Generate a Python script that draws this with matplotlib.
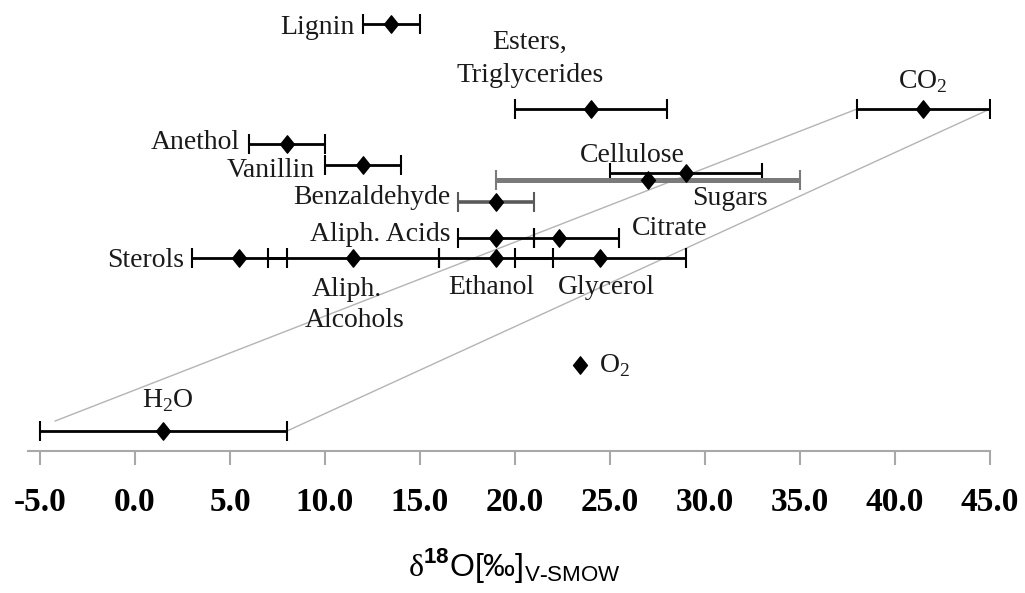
import numpy as np
import matplotlib
matplotlib.use("Agg")
import matplotlib.pyplot as plt
from matplotlib.path import Path

plt.rcParams["font.family"] = ["Liberation Serif", "DejaVu Serif"]
plt.rcParams["mathtext.fontset"] = "custom"
plt.rcParams["mathtext.rm"] = "Liberation Serif"
plt.rcParams["mathtext.sf"] = "Liberation Sans"
plt.rcParams["mathtext.bf"] = "Liberation Sans:bold"
plt.rcParams["axes.unicode_minus"] = False

# ---- data: delta 18O (permil, V-SMOW) per compound class ----------------------
names = ["Lignin", "Esters", "CO2", "Anethol", "Vanillin", "Cellulose", "Sugars",
         "Benzaldehyde", "Aliph. Acids", "Citrate", "Sterols", "Aliph. Alcohols",
         "Ethanol", "Glycerol", "O2", "H2O"]
delta = [13.5, 24.0, 41.5, 8.0, 12.0, 29.0, 27.0,
         19.0, 19.0, 22.3, 5.5, 11.5,
         19.0, 24.5, 23.4, 1.5]
range_low = [12.0, 20.0, 38.0, 6.0, 10.0, 25.0, 19.0,
             17.0, 17.0, 21.0, 3.0, 7.0,
             16.0, 20.0, np.nan, -5.0]
range_high = [15.0, 28.0, 45.0, 10.0, 14.0, 33.0, 35.0,
              21.0, 21.0, 25.5, 8.0, 16.0,
              22.0, 29.0, np.nan, 8.0]
# vertical row level of each entry (arbitrary units, axis line = 0)
row = [427, 342, 342, 307, 286, 278, 271,
       249, 213, 213, 193, 193,
       193, 193, 86, 20]

# mixing lines between water and CO2
mix_x = [[-4.2, 38.0], [8.0, 45.0]]
mix_y = [[30, 342], [20, 342]]

xticks = np.arange(-5, 46, 5)

# ---- styling ------------------------------------------------------------------
GRAY_BARS = {"Sugars": ("#7a7a7a", 3.6), "Benzaldehyde": ("#5a5a5a", 2.6)}
AXIS_GRAY = "#a8a8a8"

# (text, x, y, ha)
LABELS = [
    ("Lignin", 11.58, 417, "right"),
    ("Esters,", 20.79, 402, "center"),
    ("Triglycerides", 20.79, 369, "center"),
    ("CO$_2$", 41.47, 363, "center"),
    ("Anethol", 5.53, 302, "right"),
    ("Vanillin", 9.47, 274, "right"),
    ("Cellulose", 26.2, 289, "center"),
    ("Sugars", 31.3, 246, "center"),
    ("Benzaldehyde", 16.58, 247, "right"),
    ("Aliph. Acids", 16.58, 210, "right"),
    ("Citrate", 26.16, 216, "left"),
    ("Sterols", 2.58, 184, "right"),
    ("Aliph.", 11.16, 155, "center"),
    ("Alcohols", 11.58, 124, "center"),
    ("Ethanol", 18.74, 157, "center"),
    ("Glycerol", 24.79, 157, "center"),
    ("O$_2$", 24.42, 79, "left"),
    ("H$_2$O", 1.74, 44, "center"),
]

diamond = Path([(0, 1), (0.8, 0), (0, -1), (-0.8, 0), (0, 1)], closed=True)

fig = plt.figure(figsize=(10.25, 5.93), dpi=100)
ax = fig.add_axes([28 / 1025, 142 / 593, 962 / 1025, 451 / 593])
ax.set_xlim(-5.63, 45.0)
ax.set_ylim(0, 451)

for xs, ys in zip(mix_x, mix_y):
    ax.plot(xs, ys, color="#b4b4b4", lw=1.0, zorder=1)

for name, x, lo, hi, y in zip(names, delta, range_low, range_high, row):
    if np.isnan(lo):
        continue
    col, lw = GRAY_BARS.get(name, ("black", 2.0))
    ax.errorbar(x, y, xerr=[[x - lo], [hi - x]], fmt="none", ecolor=col,
                elinewidth=lw, capsize=7, capthick=1.5, zorder=3)

ax.plot(delta, row, linestyle="none", marker=diamond, markersize=12.5,
        color="black", zorder=4)

for text, x, y, ha in LABELS:
    ax.text(x, y, text, ha=ha, va="baseline", fontsize=20, color="#1a1a1a")

for side in ("top", "left", "right"):
    ax.spines[side].set_visible(False)
ax.spines["bottom"].set_color(AXIS_GRAY)
ax.spines["bottom"].set_linewidth(1.5)
ax.set_yticks([])
ax.set_xticks(xticks)
ax.set_xticklabels([f"{v:.1f}" for v in xticks], fontweight="bold", fontsize=24)
ax.tick_params(axis="x", direction="out", length=10, width=1.5,
               color=AXIS_GRAY, pad=16)

fig.text(514 / 1025, 17 / 593,
         r"$\mathrm{δ}^{\mathbf{18}}\mathsf{O[‰]}_{\mathsf{V\text{-}SMOW}}$",
         ha="center", va="baseline", fontsize=23)

fig.savefig("out.png", dpi=100)
